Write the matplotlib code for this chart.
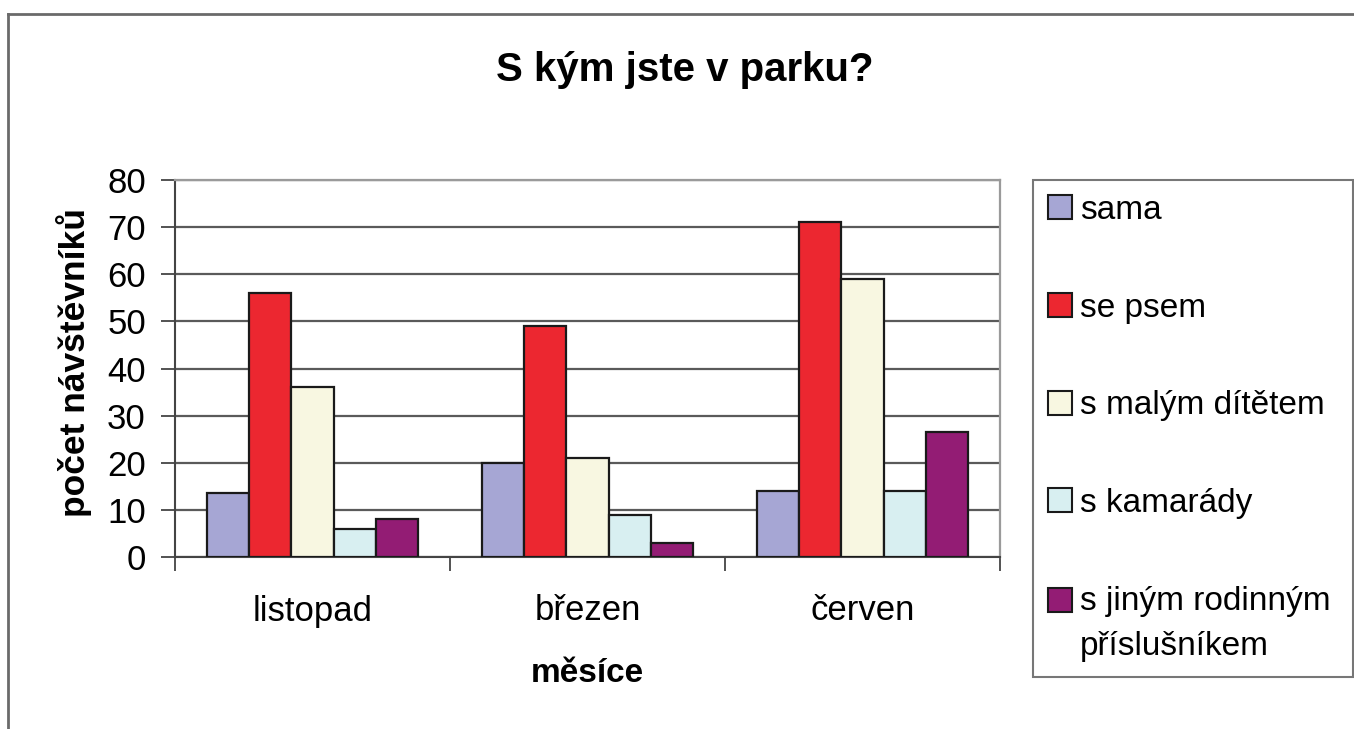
import matplotlib
matplotlib.use("Agg")
import matplotlib.pyplot as plt
from matplotlib.lines import Line2D
from matplotlib.patches import Patch, Rectangle
from matplotlib.legend_handler import HandlerPatch
import numpy as np

plt.rcParams['font.family'] = ['Liberation Sans', 'DejaVu Sans']

months = ["listopad", "březen", "červen"]
series = ["sama", "se psem", "s malým dítětem", "s kamarády",
          "s jiným rodinným\npříslušníkem"]
sama = [13.5, 20, 14]
se_psem = [56, 49, 71]
s_malym = [36, 21, 59]
s_kamarady = [6, 9, 14]
s_jinym = [8, 3, 26.5]
colors = ["#A6A6D4", "#EC2730", "#F8F7E1", "#D8EFF1", "#931C74"]

values = [sama, se_psem, s_malym, s_kamarady, s_jinym]

W, H = 1354, 729
fig = plt.figure(figsize=(W / 100, H / 100), dpi=100)
ax = fig.add_axes([175 / W, 1 - 557 / H, (1000 - 175) / W, (557 - 180) / H])

x = np.arange(len(months))
group = 0.77
bw = group / len(series)
for i, (vals, col) in enumerate(zip(values, colors)):
    ax.bar(x - group / 2 + bw * (i + 0.5), vals, width=bw, color=col,
           edgecolor="#1a1a1a", linewidth=1.6, zorder=3, label=series[i])

ax.set_xlim(-0.5, 2.5)
ax.set_ylim(0, 80)
ax.set_yticks(range(0, 81, 10))
ax.yaxis.grid(True, color="#5a5a5a", linewidth=1.6, zorder=0)
ax.set_axisbelow(True)

ax.set_xticks(x)
ax.set_xticklabels(months, fontsize=25)
ax.tick_params(axis="x", length=0, pad=27)
ax.set_xticks([-0.5, 0.5, 1.5, 2.5], minor=True)
ax.tick_params(axis="x", which="minor", length=10, width=1.3, color="#444444")
ax.tick_params(axis="y", labelsize=25, length=10, width=1.3, color="#444444", pad=11)

for s in ["left", "bottom"]:
    ax.spines[s].set_color("#444444")
    ax.spines[s].set_linewidth(1.5)
for s in ["top", "right"]:
    ax.spines[s].set_color("#9a9a9a")
    ax.spines[s].set_linewidth(1.6)

ax.set_xlabel("měsíce", fontsize=24, fontweight="bold", labelpad=22)
ax.set_ylabel("počet návštěvníků", fontsize=25.5, fontweight="bold",
              labelpad=11, y=0.517)

fig.text(685 / W, 1 - 70 / H, "S kým jste v parku?", fontsize=29,
         fontweight="bold", ha="center", va="center")


class TopSquareHandler(HandlerPatch):
    """Square handle aligned with the first line of a two-line label."""
    def __init__(self, shift, **kw):
        super().__init__(**kw)
        self.shift = shift

    def create_artists(self, legend, orig_handle, xdescent, ydescent,
                       width, height, fontsize, trans):
        p = Rectangle((-xdescent, -ydescent + self.shift), width, height,
                      facecolor=orig_handle.get_facecolor(),
                      edgecolor=orig_handle.get_edgecolor(),
                      linewidth=orig_handle.get_linewidth(), transform=trans)
        return [p]


handles = [Patch(facecolor=c, edgecolor="#1a1a1a", linewidth=1.5) for c in colors]
leg = fig.legend(handles, series, loc="upper left",
                 bbox_to_anchor=(1033 / W, 1 - 670 / H, 320 / W, 490 / H),
                 mode="expand", fontsize=24,
                 frameon=True, fancybox=False, edgecolor="#555555",
                 handlelength=0.72, handleheight=0.72, handletextpad=0.24,
                 labelspacing=2.0, borderpad=0.45, borderaxespad=0,
                 handler_map={handles[-1]: TopSquareHandler(shift=17.5)})
leg.get_frame().set_linewidth(1.5)
for t in leg.get_texts():
    t.set_linespacing(1.6)

# outer border (top and left)
fig.add_artist(Line2D([8 / W, 1], [1 - 14 / H, 1 - 14 / H], transform=fig.transFigure,
                      color="#6a6a6a", linewidth=2))
fig.add_artist(Line2D([8 / W, 8 / W], [1 - 14 / H, 0], transform=fig.transFigure,
                      color="#6a6a6a", linewidth=2))

fig.savefig("out.png", dpi=100)
